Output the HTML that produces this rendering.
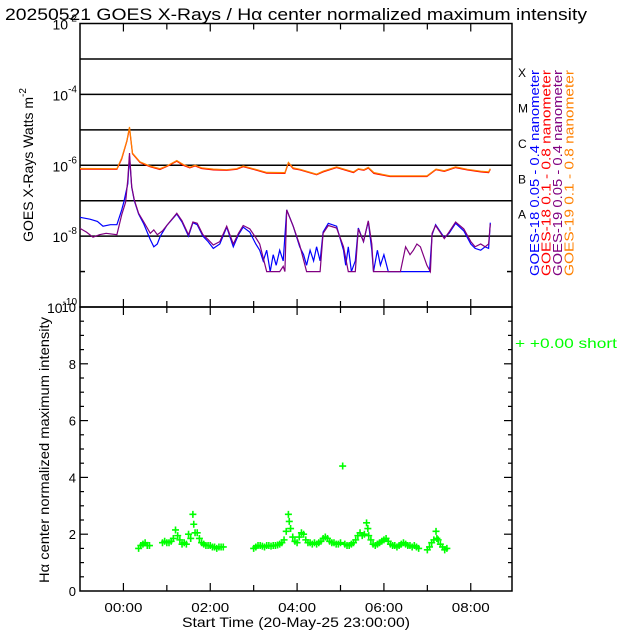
<!DOCTYPE html>
<html><head><meta charset="utf-8"><style>
body{margin:0;background:#fff;}
svg{display:block;font-family:"Liberation Sans",sans-serif;}
</style></head><body>
<svg id="c" width="640" height="640" viewBox="0 0 640 640">
<text x="5" y="20" font-size="17" fill="#000" textLength="582" lengthAdjust="spacingAndGlyphs">20250521 GOES X-Rays / Hα center normalized maximum intensity</text>
</svg>
<script>
// ---- data ----
const hourTicks=[0,1,2,3,4,5,6,7,8];
const hourLabels=["00:00","","02:00","","04:00","","06:00","","08:00"];
const decadeLabels=[-2,-4,-6,-8,-10];
const classLetters=["X","M","C","B","A"];
const orangeT=[-1,-0.15,-0.04,0.08,0.14,0.21,0.38,0.61,0.84,1.0,1.23,1.38,1.53,1.65,1.8,2.07,2.38,2.61,2.76,2.99,3.3,3.72,3.8,3.91,4.07,4.45,4.6,4.91,5.3,5.41,5.54,5.64,5.77,6.14,6.99,7.2,7.39,7.65,7.92,8.23,8.41,8.45];
const orangeV=[8.1e-7,8e-7,1.6e-6,5e-6,1.2e-5,2.2e-6,1.25e-6,9.5e-7,8e-7,9.5e-7,1.35e-6,1.05e-6,8.8e-7,1e-6,8.5e-7,7.8e-7,7.5e-7,8e-7,9.5e-7,8e-7,6.3e-7,6.2e-7,1.2e-6,8.4e-7,7.7e-7,5.6e-7,6.8e-7,9e-7,6.5e-7,8e-7,7.5e-7,8.7e-7,6.2e-7,5e-7,5e-7,7.8e-7,7e-7,9e-7,7.7e-7,6.8e-7,6.5e-7,8e-7];
const redV=[7.8e-7,7.7e-7,1.5e-6,4.8e-6,1.1e-5,2.1e-6,1.2e-6,9.1e-7,7.6e-7,9.2e-7,1.3e-6,1.0e-6,8.4e-7,9.6e-7,8.1e-7,7.4e-7,7.2e-7,7.7e-7,9.1e-7,7.7e-7,6.0e-7,5.9e-7,1.15e-6,8.0e-7,7.4e-7,5.4e-7,6.5e-7,8.6e-7,6.2e-7,7.7e-7,7.2e-7,8.3e-7,5.9e-7,4.8e-7,4.8e-7,7.5e-7,6.7e-7,8.6e-7,7.4e-7,6.5e-7,6.2e-7,7.7e-7];
const purpleT=[-1,-0.85,-0.7,-0.55,-0.4,-0.15,-0.04,0.05,0.1,0.14,0.19,0.25,0.35,0.47,0.62,0.7,0.78,0.9,1.0,1.23,1.35,1.5,1.6,1.7,1.83,1.95,2.07,2.22,2.38,2.53,2.65,2.76,2.91,3.05,3.14,3.3,3.45,3.6,3.68,3.72,3.76,3.91,4.06,4.22,4.53,4.6,4.72,4.91,5.07,5.18,5.34,5.41,5.53,5.64,5.72,5.76,6.38,6.5,6.6,6.68,6.76,6.84,6.99,7.07,7.11,7.19,7.39,7.5,7.65,7.84,8.0,8.1,8.23,8.33,8.41,8.45];
const purpleV=[1.65e-8,1.3e-8,9.3e-9,1.1e-8,1.2e-8,1.1e-8,4e-8,9e-8,4e-7,2.2e-6,2.5e-7,1.05e-7,4.4e-8,2.5e-8,1.2e-8,1.5e-8,1.1e-8,1.4e-8,2e-8,4.4e-8,2.7e-8,1.1e-8,2.5e-8,2.3e-8,1.1e-8,8e-9,5.6e-9,7e-9,1.9e-8,6e-9,1.2e-8,2e-8,1.6e-8,9e-9,6e-9,1e-9,1e-9,1e-9,1.4e-9,1e-9,5.5e-8,1.9e-8,5.6e-9,1e-9,1e-9,1.2e-8,2e-8,1.7e-8,5e-9,1e-9,1e-9,1.6e-8,7e-9,2.7e-8,6e-9,1e-9,1e-9,5e-9,3e-9,4e-9,6e-9,5e-9,1.5e-9,1e-9,1.2e-8,2e-8,8.5e-9,1.3e-8,2.5e-8,1.6e-8,7e-9,5e-9,6e-9,5e-9,6e-9,2.2e-8];
const blueT=[-1,-0.77,-0.6,-0.47,-0.3,-0.15,-0.04,0.01,0.1,0.14,0.19,0.25,0.35,0.47,0.62,0.7,0.78,0.85,1.0,1.23,1.35,1.5,1.6,1.7,1.83,1.95,2.07,2.22,2.38,2.53,2.65,2.76,2.91,3.05,3.14,3.22,3.3,3.38,3.45,3.52,3.6,3.68,3.76,3.91,4.06,4.15,4.22,4.3,4.38,4.45,4.53,4.6,4.72,4.91,5.07,5.12,5.18,5.25,5.34,5.41,5.53,5.64,5.72,5.76,5.85,5.92,6.0,6.1,7.05,7.11,7.19,7.39,7.5,7.65,7.84,8.0,8.1,8.23,8.33,8.41,8.45];
const blueV=[3.4e-8,3e-8,2.6e-8,1.9e-8,2.1e-8,2.1e-8,5.5e-8,9.3e-8,3e-7,1.8e-6,2.4e-7,1e-7,4.2e-8,2.2e-8,8e-9,5e-9,6e-9,1e-8,2e-8,4.2e-8,2.5e-8,1e-8,2.4e-8,2.1e-8,1e-8,7e-9,4.5e-9,6e-9,1.8e-8,5e-9,1.1e-8,1.8e-8,1.3e-8,6e-9,4e-9,2e-9,4e-9,1e-9,3e-9,1.5e-9,4e-9,2e-9,5.5e-8,1.9e-8,5e-9,3e-9,1.5e-9,4e-9,2e-9,5e-9,2e-9,1.3e-8,2.3e-8,1.9e-8,4e-9,1.5e-9,5e-9,1e-9,2e-9,1.7e-8,7e-9,2.6e-8,4e-9,1e-9,4e-9,1.5e-9,3e-9,1e-9,1e-9,1.1e-8,2.1e-8,9e-9,1.2e-8,2.3e-8,1.4e-8,6e-9,4.5e-9,4e-9,5e-9,4.5e-9,2.4e-8];
const haT=[0.35,0.4,0.45,0.5,0.55,0.6,0.9,0.95,1.0,1.05,1.1,1.15,1.2,1.25,1.3,1.35,1.4,1.45,1.5,1.55,1.6,1.62,1.65,1.7,1.75,1.8,1.85,1.9,1.95,2.0,2.05,2.1,2.15,2.2,2.25,2.3,3.0,3.05,3.1,3.15,3.2,3.25,3.3,3.35,3.4,3.45,3.5,3.55,3.6,3.65,3.7,3.75,3.8,3.82,3.85,3.9,3.95,4.0,4.05,4.1,4.15,4.2,4.25,4.3,4.35,4.4,4.45,4.5,4.55,4.6,4.65,4.7,4.75,4.8,4.85,4.9,4.95,5.0,5.05,5.1,5.15,5.2,5.25,5.3,5.35,5.4,5.45,5.5,5.55,5.6,5.63,5.65,5.7,5.75,5.8,5.85,5.9,5.95,6.0,6.05,6.1,6.15,6.2,6.25,6.3,6.35,6.4,6.45,6.5,6.55,6.6,6.65,6.7,6.75,6.8,7.0,7.05,7.1,7.15,7.2,7.22,7.25,7.3,7.35,7.4,7.45];
const haV=[1.5,1.6,1.65,1.7,1.6,1.6,1.7,1.75,1.7,1.7,1.75,1.85,2.15,1.95,1.8,1.65,1.7,1.65,2.0,1.85,2.7,2.35,2.05,2.05,1.85,1.7,1.65,1.6,1.6,1.6,1.55,1.55,1.5,1.55,1.55,1.55,1.5,1.55,1.6,1.6,1.58,1.55,1.6,1.6,1.58,1.6,1.6,1.62,1.65,1.7,1.8,2.1,2.7,2.45,2.2,1.9,1.75,1.7,1.9,2.05,2.0,1.8,1.7,1.7,1.65,1.7,1.65,1.7,1.75,1.85,1.9,1.85,1.75,1.7,1.7,1.65,1.65,1.7,4.4,1.65,1.6,1.6,1.65,1.7,1.8,1.95,2.05,1.95,2.0,2.4,2.2,1.95,1.8,1.65,1.6,1.65,1.7,1.75,1.8,1.85,1.75,1.65,1.6,1.6,1.55,1.6,1.65,1.7,1.65,1.6,1.6,1.55,1.6,1.55,1.5,1.45,1.55,1.7,1.8,2.1,1.85,1.8,1.65,1.55,1.45,1.5];

// ---- layout ----
const L=80,R=512,T1=23.5,B1=307,B2=591;
const NS="http://www.w3.org/2000/svg";
const svg=document.getElementById('c');
const xS=h=>L+(h+1)*(R-L)/9.95;
const yLog=v=>T1+(-2-Math.log10(v))*(B1-T1)/8;
const yLin=v=>B2-v*(B2-B1)/10;
function mk(tag,at,parent){const e=document.createElementNS(NS,tag);for(const k in at)e.setAttribute(k,at[k]);(parent||svg).appendChild(e);return e;}

let f1=mk('rect',{x:L,y:T1,width:R-L,height:B1-T1,fill:'none',stroke:'#000','stroke-width':1.5});


let f2=mk('rect',{x:L,y:B1,width:R-L,height:B2-B1,fill:'none',stroke:'#000','stroke-width':1.5});



for(let d=-3;d>=-9;d--){
  const y=yLog(Math.pow(10,d));
  if(d>=-8){const ln=mk('line',{x1:L,x2:R,y1:y,y2:y,stroke:'#000','stroke-width':1.5});
  
  }
  else{mk('line',{x1:L,x2:L+5,y1:y,y2:y,stroke:'#000','stroke-width':1.5});mk('line',{x1:R-5,x2:R,y1:y,y2:y,stroke:'#000','stroke-width':1.5});}
}
decadeLabels.forEach(d=>{
  const y=yLog(Math.pow(10,d));
  const t=mk('text',{x:77,y:y+6,'text-anchor':'end','font-size':14,fill:'#000'});
  
  
  t.innerHTML='10<tspan dy="-8" font-size="10">'+d+'</tspan>';
});
classLetters.forEach((c,i)=>{
  const y=yLog(Math.pow(10,-3-i))+18;
  const t=mk('text',{x:518,y:y,'font-size':12,fill:'#000'});
  
  
  t.textContent=c;
});
hourTicks.forEach((h,i)=>{
  const x=xS(h), len=(i%2==0)?8:6;
  mk('line',{x1:x,x2:x,y1:B1,y2:B1-len,stroke:'#000','stroke-width':1.2});
  mk('line',{x1:x,x2:x,y1:T1,y2:T1+len,stroke:'#000','stroke-width':1.2});
  mk('line',{x1:x,x2:x,y1:B2,y2:B2-len,stroke:'#000','stroke-width':1.2});
  mk('line',{x1:x,x2:x,y1:B1,y2:B1+len,stroke:'#000','stroke-width':1.2});
  if(hourLabels[i]){const t=mk('text',{x:x,y:612,'text-anchor':'middle','font-size':13,fill:'#000',textLength:38,lengthAdjust:'spacingAndGlyphs'});
  
  
  t.textContent=hourLabels[i];}
});
for(let v=0.5;v<10;v+=0.5){
  const y=yLin(v), len=(v%2==0)?8:4;
  mk('line',{x1:L,x2:L+len,y1:y,y2:y,stroke:'#000','stroke-width':1.2});
  mk('line',{x1:R-len,x2:R,y1:y,y2:y,stroke:'#000','stroke-width':1.2});
}
[0,2,4,6,8,10].forEach(v=>{
  const t=mk('text',{x:76,y:yLin(v)+5,'text-anchor':'end','font-size':13,fill:'#000'});
  
  
  t.textContent=v;
});

function series(tt,vv,col,name){
  const p=tt.map((t,i)=>xS(t).toFixed(1)+','+yLog(vv[i]).toFixed(1)).join(' ');
  const e=mk('polyline',{points:p,fill:'none',stroke:col,'stroke-width':1.2});
  
  
}
series(blueT,blueV,'#0000ff','goes18-short-line');
series(purpleT,purpleV,'#800080','goes19-short-line');
series(orangeT,redV,'#ff0000','goes18-long-line');
series(orangeT,orangeV,'#ff8000','goes19-long-line');

haT.forEach((t,i)=>{
  const x=xS(t), y=yLin(haV[i]);
  const g=mk('path',{d:`M${x-3.5},${y}h7M${x},${y-3.5}v7`,stroke:'#00ff00','stroke-width':1.6});
  
  
});

let a1=mk('text',{x:0,y:0,transform:'translate(33,165) rotate(-90)','text-anchor':'middle','font-size':14,fill:'#000'});


a1.innerHTML='GOES X-Rays Watts m<tspan dy="-7" font-size="10">-2</tspan>';
let a2=mk('text',{x:0,y:0,transform:'translate(49,450) rotate(-90)','text-anchor':'middle','font-size':14,fill:'#000',textLength:266,lengthAdjust:'spacingAndGlyphs'});


a2.textContent='Hα center normalized maximum intensity';
let a3=mk('text',{x:296,y:627,'text-anchor':'middle','font-size':14,fill:'#000',textLength:228,lengthAdjust:'spacingAndGlyphs'});


a3.textContent='Start Time (20-May-25 23:00:00)';

const legTexts=["GOES-18 0.05 - 0.4 nanometer","GOES-18 0.1 - 0.8 nanometer","GOES-19 0.05 - 0.4 nanometer","GOES-19 0.1 - 0.8 nanometer"];
const legCols=['#0000ff','#ff0000','#800080','#ff8000'];
legTexts.forEach((s,i)=>{
  const t=mk('text',{x:0,y:0,transform:`translate(${539+i*11.5},276) rotate(-90)`,'font-size':13,fill:legCols[i],textLength:206,lengthAdjust:'spacingAndGlyphs'});
  
  
  t.textContent=s;
});
let lg=mk('text',{x:515,y:348,'font-size':14,fill:'#00ff00',textLength:102,lengthAdjust:'spacingAndGlyphs'});


lg.setAttribute('xml:space','preserve');
lg.textContent='+   +0.00 short';
</script>
</body></html>
